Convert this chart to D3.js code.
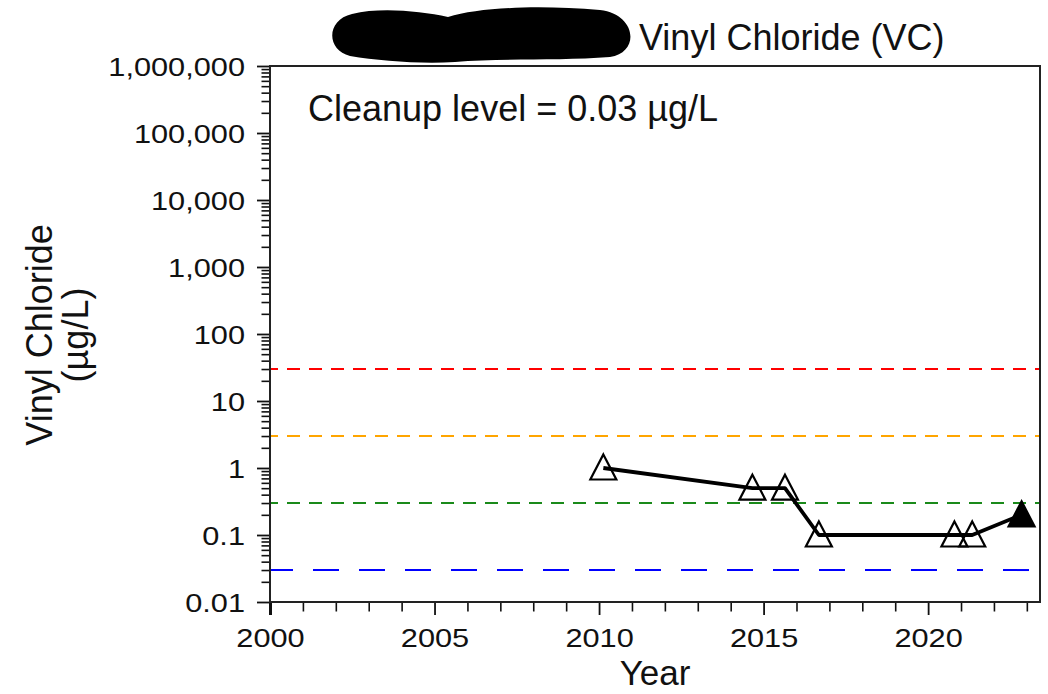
<!DOCTYPE html>
<html>
<head>
<meta charset="utf-8">
<script src="https://cdn.jsdelivr.net/npm/d3@7"></script>
<style>
  html, body { margin: 0; padding: 0; background: #fff; }
  svg { display: block; }
  text { font-family: "Liberation Sans", Arial, sans-serif; fill: #111; }
</style>
</head>
<body>
<svg id="chart" width="1048" height="694"></svg>
<script>
// ---- data ----
const sampleYears = [2010.13, 2014.66, 2015.65, 2016.68, 2020.80, 2021.34, 2022.84];
const vcValues    = [1, 0.5, 0.5, 0.1, 0.1, 0.1, 0.2];
const detected    = [false, false, false, false, false, false, true];

const refLevels   = [30, 3, 0.3, 0.03];
const refColors   = ["#ff0000", "#ffa500", "#1a8a1a", "#0000ff"];
const refDashes   = ["13,9", "13,9", "13,9", "26,20"];

const yMajorTicks = [0.01, 0.1, 1, 10, 100, 1000, 10000, 100000, 1000000];
const xMajorTicks = [2000, 2005, 2010, 2015, 2020];

const titleText   = "Vinyl Chloride (VC)";
const cleanupText = "Cleanup level = 0.03 µg/L";
const yLabel1     = "Vinyl Chloride";
const yLabel2     = "(µg/L)";
const xLabel      = "Year";

// ---- layout ----
const L = 270, R = 1040, T = 66, B = 602;
const svg = d3.select("#chart");

const x = d3.scaleLinear().domain([2000, 2023.4]).range([L, R]);
const y = d3.scaleLog().domain([0.01, 1000000]).range([B, T]);

const yMinor = [];
for (let e = -2; e < 6; e++) for (let k = 2; k <= 9; k++) yMinor.push(k * Math.pow(10, e));
const xMinor = d3.range(2000, 2024).filter(v => v % 5 !== 0);

const STRETCH = 1.16;
const fmt = d3.format(",");

// reference lines
refLevels.forEach((lv, i) => {
  svg.append("line")
    .attr("x1", L).attr("x2", R)
    .attr("y1", y(lv)).attr("y2", y(lv))
    .attr("stroke", refColors[i]).attr("stroke-width", 2)
    .attr("stroke-dasharray", refDashes[i])
    .attr("stroke-dashoffset", i === 3 ? 3 : 5);
});

// y axis minor
svg.append("g").attr("transform", `translate(${L},0)`)
  .call(d3.axisLeft(y).tickValues(yMinor).tickSize(8.5).tickSizeOuter(0).tickFormat(""))
  .call(g => g.select(".domain").remove())
  .call(g => g.selectAll("line").attr("stroke", "#111").attr("stroke-width", 1.6));

// y axis major
const yAx = svg.append("g").attr("transform", `translate(${L},0)`)
  .call(d3.axisLeft(y).tickValues(yMajorTicks).tickSize(13).tickSizeOuter(0).tickFormat(fmt));
yAx.select(".domain").remove();
yAx.selectAll("line").attr("stroke", "#111").attr("stroke-width", 1.8);
yAx.selectAll("text")
  .attr("x", 0).attr("dy", "0.36em")
  .attr("text-anchor", "end")
  .attr("transform", `translate(-25,0) scale(${STRETCH},1)`)
  .style("font-size", "26.5px").style("font-family", "Liberation Sans, Arial, sans-serif").attr("fill", "#1a1a1a");

// x axis minor
svg.append("g").attr("transform", `translate(0,${B})`)
  .call(d3.axisBottom(x).tickValues(xMinor).tickSize(9.5).tickSizeOuter(0).tickFormat(""))
  .call(g => g.select(".domain").remove())
  .call(g => g.selectAll("line").attr("stroke", "#111").attr("stroke-width", 1.6));

// x axis major
const xAx = svg.append("g").attr("transform", `translate(0,${B})`)
  .call(d3.axisBottom(x).tickValues(xMajorTicks).tickSize(13).tickSizeOuter(0).tickFormat(d3.format("d")));
xAx.select(".domain").remove();
xAx.selectAll("line").attr("stroke", "#111").attr("stroke-width", 1.8);
xAx.selectAll("line").filter(d => d === 2000).attr("stroke-width", 3);
xAx.selectAll("text")
  .attr("y", 0).attr("dy", 0)
  .attr("text-anchor", "middle")
  .attr("transform", `translate(0,45) scale(${STRETCH},1)`)
  .style("font-size", "26.5px").style("font-family", "Liberation Sans, Arial, sans-serif").attr("fill", "#1a1a1a");

// frame
svg.append("rect")
  .attr("x", L).attr("y", T).attr("width", R - L).attr("height", B - T)
  .attr("fill", "none").attr("stroke", "#222").attr("stroke-width", 2);

// data line
const pts = sampleYears.map((yr, i) => ({ yr, v: vcValues[i], det: detected[i] }));
svg.append("path")
  .datum(pts)
  .attr("d", d3.line().x(d => x(d.yr)).y(d => y(d.v)))
  .attr("fill", "none").attr("stroke", "#000").attr("stroke-width", 3.8)
  .attr("stroke-linejoin", "round");

// markers
const tri = "M0,-13.5 L13,11.5 L-13,11.5 Z";
svg.append("g").selectAll("path").data(pts).join("path")
  .attr("d", tri)
  .attr("transform", d => `translate(${x(d.yr)},${y(d.v)})`)
  .attr("fill", d => d.det ? "#000" : "none")
  .attr("stroke", "#000").attr("stroke-width", 2.2)
  .attr("stroke-linejoin", "miter");

// cleanup text
svg.append("text").attr("x", 308).attr("y", 121)
  .style("font-size", "36px").text(cleanupText);

// title redaction blob + title
svg.append("path")
  .attr("d", "M352,14 C380,7 420,11 448,17 C480,7 540,5 600,10 C636,14 641,52 610,57 C560,61 500,58 455,62 C420,64 380,61 350,56 C326,50 326,20 352,14 Z")
  .attr("fill", "#000");
svg.append("text").attr("x", 639).attr("y", 50)
  .style("font-size", "36px").text(titleText);

// axis titles
svg.append("text").attr("transform", "translate(52,335) rotate(-90)")
  .attr("text-anchor", "middle").style("font-size", "36px").text(yLabel1);
svg.append("text").attr("transform", "translate(88,335) rotate(-90)")
  .attr("text-anchor", "middle").style("font-size", "36px").text(yLabel2);
svg.append("text").attr("x", (L + R) / 2).attr("y", 685)
  .attr("text-anchor", "middle").style("font-size", "35px").text(xLabel);
</script>
</body>
</html>
